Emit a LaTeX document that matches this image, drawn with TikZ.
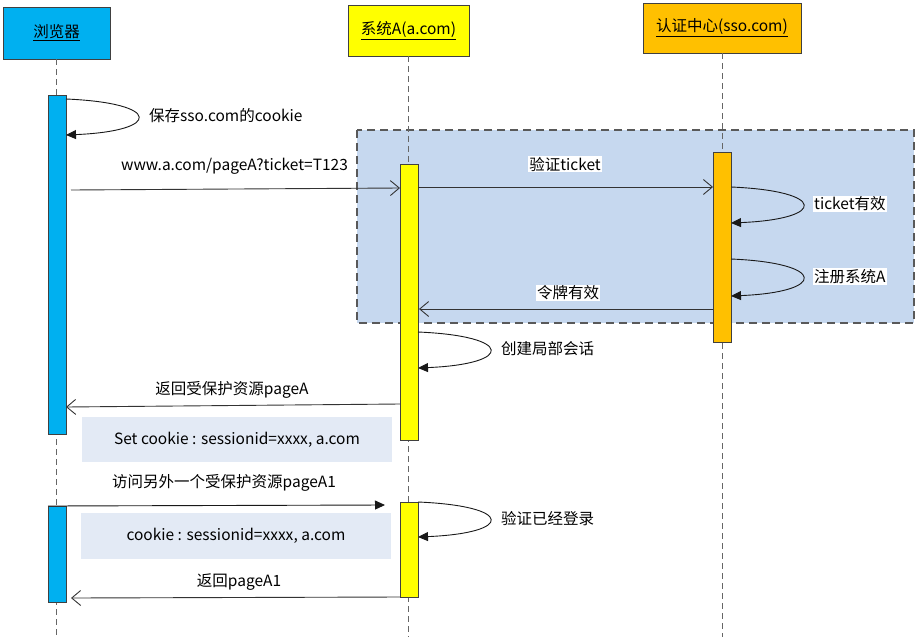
\documentclass[tikz,border=0pt]{standalone}
\usepackage{fontspec}
\setmainfont{Noto Sans CJK SC}
\usetikzlibrary{arrows.meta}
\definecolor{browser}{HTML}{00B0F0}
\definecolor{sysa}{HTML}{FFFF00}
\definecolor{sso}{HTML}{FFC000}
\definecolor{grp}{HTML}{C6D8EF}
\definecolor{note}{HTML}{E3EAF5}
\tikzset{
  head/.style={draw=black!75,line width=0.9pt,minimum height=51,inner sep=0pt},
  bar/.style={draw=black!75,line width=0.9pt,minimum width=18,inner sep=0pt,anchor=north},
  life/.style={draw=black!60,line width=0.9pt,dash pattern=on 6pt off 4pt},
  msg/.style={draw=black!80,line width=0.9pt,-{Straight Barb[length=9pt,width=15pt]}},
  call/.style={draw=black!90,line width=0.9pt,-{Triangle[length=10pt,width=9pt]}},
  self/.style={draw=black!90,line width=0.9pt,-{Triangle[length=10pt,width=9pt]}},
  lbl/.style={fill=white,inner sep=1pt},
  note/.style={fill=note,minimum width=310,inner sep=0pt}
}
\begin{document}
\begin{tikzpicture}[x=1pt,y=-1pt,font=\fontsize{15.5}{18}\selectfont]
\useasboundingbox (0,0) rectangle (917,637);

\fill[grp] (357,130) rectangle (914,323);
\draw[draw=black!65,line width=1.1pt,dash pattern=on 8pt off 5pt] (357,130) rectangle (914,323);

\node[head,fill=browser,minimum width=107,minimum height=52] (hB) at (56.5,33) {\underline{浏览器}};
\node[head,fill=sysa,minimum width=121] (hA) at (408.5,30.5) {\underline{系统A(a.com)}};
\node[head,fill=sso,minimum width=158,minimum height=50] (hS) at (722,28) {\underline{认证中心(sso.com)}};

\foreach \h in {hB,hA,hS}
  \draw[life] (\h.south) -- (\h.south |- 0,637);

\node[bar,fill=browser,minimum height=339] (bB1) at (57,95) {};
\node[bar,fill=browser,minimum height=96] (bB2) at (57,506) {};
\node[bar,fill=sysa,minimum height=276] (bA1) at (409,164) {};
\node[bar,fill=sysa,minimum height=95] (bA2) at (409,502) {};
\node[bar,fill=sso,minimum height=190] (bS) at (722,152) {};

\node[note,minimum height=45] (n1) at (237,439.5) {Set cookie : sessionid=xxxx, a.com};
\node[note,minimum height=46] (n2) at (236,536) {cookie : sessionid=xxxx, a.com};

\coordinate (m1a) at (71,190);  \coordinate (m1b) at (400,188);
\coordinate (m2a) at (418,187); \coordinate (m2b) at (713,187);
\coordinate (m3a) at (713,309); \coordinate (m3b) at (419,309);
\coordinate (m4a) at (400,404); \coordinate (m4b) at (66,407);
\coordinate (m5a) at (48,506);  \coordinate (m5b) at (385,505);
\coordinate (m6a) at (400,597); \coordinate (m6b) at (71,598);

\draw[msg] (m1a) -- (m1b);
\draw[msg] (m2a) -- (m2b);
\draw[msg] (m3a) -- (m3b);
\draw[msg] (m4a) -- (m4b);
\draw[call] (m5a) -- (m5b);
\draw[msg] (m6a) -- (m6b);

\node[lbl] (t1) at (234.5,166) {www.a.com/pageA?ticket=T123};
\node[lbl] (t2) at (565,164) {验证ticket};
\node[lbl] (t3) at (568,293) {令牌有效};
\node[lbl] (t4) at (232,390) {返回受保护资源pageA};
\node[lbl] (t5) at (224,483) {访问另外一个受保护资源pageA1};
\node[lbl] (t6) at (239,582) {返回pageA1};

\foreach \k/\x/\a/\b/\t in {lB/66/99/135/保存sso.com的cookie,
  lS1/731/187/223/ticket有效, lS2/731/259/296/注册系统A,
  lA1/418/332/368/创建局部会话, lA2/418/502/537/验证已经登录}
{
  \coordinate (\k-a) at (\x,\a);
  \coordinate (\k-b) at (\x,\b);
  \draw[self] (\k-a) .. controls +(96,4) and +(96,-4) .. (\k-b);
  \node[lbl,anchor=west] (\k-t) at (\x+82,{(\a+\b)/2-1}) {\t};
}

\end{tikzpicture}
\end{document}
